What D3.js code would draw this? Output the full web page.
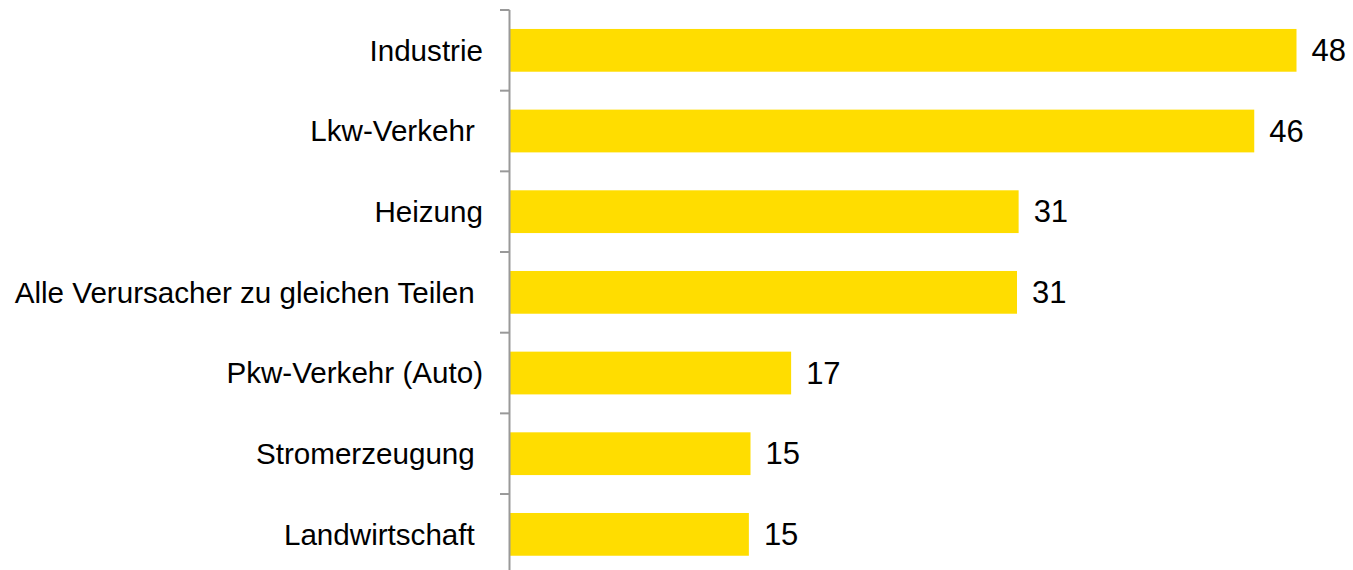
<!DOCTYPE html>
<html>
<head>
<meta charset="utf-8">
<script src="https://cdn.jsdelivr.net/npm/d3@7"></script>
<style>
  html, body { margin: 0; padding: 0; background: #fff; }
  svg { display: block; }
  text { font-family: "Liberation Sans", Arial, sans-serif; fill: #000; white-space: pre; }
</style>
</head>
<body>
<svg id="chart" width="1353" height="570"></svg>
<script>
const categories = ["Industrie", "Lkw-Verkehr ", "Heizung", "Alle Verursacher zu gleichen Teilen ", "Pkw-Verkehr (Auto)", "Stromerzeugung ", "Landwirtschaft "];
const values = [48.4, 45.8, 31.3, 31.2, 17.3, 14.8, 14.7];

const svg = d3.select("#chart");
const axisX = 509.5;
const y = d3.scaleBand().domain(categories).range([10, 574.7]).paddingInner(0.47).paddingOuter(0.235);
const x = d3.scaleLinear().domain([0, 50]).range([510, 510 + 16.25 * 50]);

// bars
svg.selectAll("rect.bar").data(values).join("rect")
  .attr("class", "bar")
  .attr("x", x(0))
  .attr("y", (d, i) => y(categories[i]))
  .attr("width", d => x(d) - x(0))
  .attr("height", y.bandwidth())
  .attr("fill", "#FFDD00");

// axis line and ticks
svg.append("line").attr("x1", axisX).attr("x2", axisX).attr("y1", 10).attr("y2", 575)
  .attr("stroke", "#999").attr("stroke-width", 2);
const boundaries = categories.map(c => y(c) - y.step() * y.paddingInner() / 2);
svg.selectAll("line.tick").data(boundaries).join("line")
  .attr("class", "tick")
  .attr("x1", 500).attr("x2", axisX)
  .attr("y1", d => d).attr("y2", d => d)
  .attr("stroke", "#999").attr("stroke-width", 2);

// category labels
svg.selectAll("text.cat").data(categories).join("text")
  .attr("class", "cat")
  .attr("x", 483)
  .attr("y", d => y(d) + y.bandwidth() / 2)
  .attr("dy", "0.35em")
  .attr("text-anchor", "end")
  .style("font-size", "29.6px")
  .text(d => d);

// value labels
svg.selectAll("text.val").data(values).join("text")
  .attr("class", "val")
  .attr("x", d => x(d) + 15)
  .attr("y", (d, i) => y(categories[i]) + y.bandwidth() / 2)
  .attr("dy", "0.34em")
  .style("font-size", "31px")
  .text(d => d3.format(".0f")(d));
</script>
</body>
</html>
